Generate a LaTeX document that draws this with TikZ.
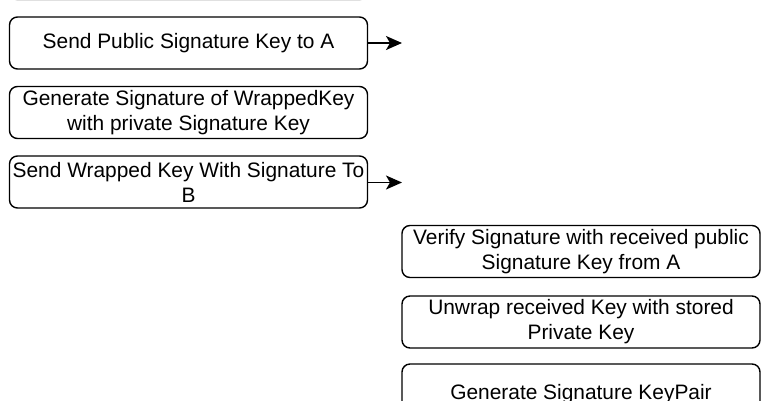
\documentclass[tikz,border=0pt]{standalone}
\usepackage{fontspec}
\setmainfont{Liberation Sans}
\usetikzlibrary{arrows.meta}
\tikzset{
  stepbox/.style={draw=black, line width=1.4pt, rounded corners=8pt, minimum width=358pt, minimum height=52pt, inner sep=0pt, align=center, font=\fontsize{20.9}{25}\selectfont},
  flowarrow/.style={draw=black, line width=1.4pt, -{Stealth[length=16pt, width=14pt, inset=4pt]}},
}
\begin{document}
\begin{tikzpicture}[x=1pt,y=-1pt]
\useasboundingbox (0,0) rectangle (770,400);
\begin{scope}
\clip (0,0) rectangle (770,400);
\draw[draw=black!35, line width=1.4pt, rounded corners=8pt] (9.5,-52) rectangle (367.5,-0.3);
\node[stepbox] (b1) at (188.5,43) {Send Public Signature Key to A};
\node[stepbox] (b2) at (188.5,112.5) {Generate Signature of WrappedKey\\with private Signature Key};
\node[stepbox] (b3) at (188.5,182) {Send Wrapped Key With Signature To\\B};
\node[stepbox] (b4) at (581,251.5) {Verify Signature with received public\\Signature Key from A};
\node[stepbox] (b5) at (581,322) {Unwrap received Key with stored\\Private Key};
\node[stepbox, minimum height=60pt] (b6) at (581,394) {Generate Signature KeyPair};
\end{scope}
\coordinate (e1) at (402,43);
\coordinate (e3) at (402,182.5);
\draw[flowarrow] (b1.east) -- (e1);
\draw[flowarrow] (b3.east |- e3) -- (e3);
\end{tikzpicture}
\end{document}
